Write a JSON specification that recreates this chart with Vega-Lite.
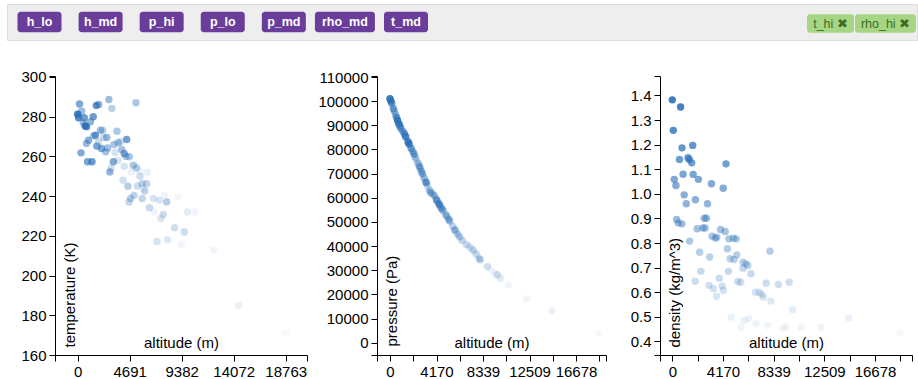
{
  "$schema": "https://vega.github.io/schema/vega-lite/v6.json",
  "padding": {"left": 6, "top": 3, "right": 0, "bottom": 0},
  "background": "white",
  "config": {
    "font": "Liberation Sans",
    "view": {"stroke": null},
    "axis": {
      "labelFont": "Liberation Sans", "labelFontSize": 15, "labelColor": "#000",
      "titleFont": "Liberation Sans", "titleFontSize": 15, "titleFontWeight": "normal", "titleColor": "#000",
      "domainColor": "#000", "tickColor": "#000", "tickSize": 6, "labelPadding": 3,
      "grid": false, "labelOverlap": false, "labelFlush": false, "labelBound": false
    }
  },
  "datasets": {
    "tags": [
      {"tag": "h_lo", "state": "available"},
      {"tag": "h_md", "state": "available"},
      {"tag": "p_hi", "state": "available"},
      {"tag": "p_lo", "state": "available"},
      {"tag": "p_md", "state": "available"},
      {"tag": "rho_md", "state": "available"},
      {"tag": "t_md", "state": "available"},
      {"tag": "t_hi", "state": "active"},
      {"tag": "rho_hi", "state": "active"}
    ],
    "obs": [
      {"h": 0, "T": 281.2, "p": 101000, "rho": 1.382},
      {"h": 80, "T": 279.5, "p": 100000, "rho": 1.258},
      {"h": 160, "T": 286.4, "p": 99000, "rho": 1.059},
      {"h": 300, "T": 261.8, "p": 97000, "rho": 1.034},
      {"h": 360, "T": 282.8, "p": 96000, "rho": 0.896},
      {"h": 500, "T": 276.9, "p": 94500, "rho": 0.882},
      {"h": 590, "T": 279.5, "p": 93300, "rho": 1.140},
      {"h": 680, "T": 275.3, "p": 92000, "rho": 1.353},
      {"h": 790, "T": 266.5, "p": 90700, "rho": 0.878},
      {"h": 890, "T": 257.3, "p": 89600, "rho": 1.080},
      {"h": 980, "T": 268.2, "p": 88700, "rho": 0.996},
      {"h": 800, "T": 275.0, "p": 90600, "rho": 1.187},
      {"h": 1150, "T": 277.5, "p": 87500, "rho": 0.960},
      {"h": 1290, "T": 257.3, "p": 86500, "rho": 1.147},
      {"h": 1400, "T": 280.0, "p": 85400, "rho": 1.140},
      {"h": 1420, "T": 270.4, "p": 85200, "rho": 0.808},
      {"h": 1600, "T": 270.7, "p": 83300, "rho": 1.126},
      {"h": 1680, "T": 285.7, "p": 82600, "rho": 1.197},
      {"h": 1720, "T": 265.2, "p": 82200, "rho": 1.079},
      {"h": 1900, "T": 286.2, "p": 80400, "rho": 0.976},
      {"h": 1880, "T": 267.4, "p": 80600, "rho": 0.645},
      {"h": 2050, "T": 273.2, "p": 79200, "rho": 0.858},
      {"h": 2150, "T": 264.0, "p": 78100, "rho": 1.059},
      {"h": 2250, "T": 273.2, "p": 76900, "rho": 0.763},
      {"h": 2350, "T": 269.5, "p": 75900, "rho": 0.685},
      {"h": 2520, "T": 262.3, "p": 74300, "rho": 0.861},
      {"h": 2630, "T": 269.5, "p": 73100, "rho": 0.901},
      {"h": 2700, "T": 264.3, "p": 72300, "rho": 0.861},
      {"h": 2810, "T": 288.7, "p": 71000, "rho": 0.901},
      {"h": 2900, "T": 252.2, "p": 70000, "rho": 0.960},
      {"h": 3016, "T": 254.2, "p": 68700, "rho": 0.628},
      {"h": 3080, "T": 284.2, "p": 68000, "rho": 0.743},
      {"h": 3220, "T": 257.3, "p": 66500, "rho": 1.041},
      {"h": 3270, "T": 266.0, "p": 66000, "rho": 0.828},
      {"h": 3374, "T": 262.0, "p": 64900, "rho": 0.614},
      {"h": 3540, "T": 272.7, "p": 63100, "rho": 0.820},
      {"h": 3648, "T": 258.0, "p": 62200, "rho": 0.584},
      {"h": 3660, "T": 266.9, "p": 62100, "rho": 0.824},
      {"h": 3860, "T": 267.4, "p": 61500, "rho": 0.657},
      {"h": 3970, "T": 263.5, "p": 60900, "rho": 0.855},
      {"h": 4190, "T": 261.5, "p": 59000, "rho": 1.023},
      {"h": 4100, "T": 248.0, "p": 59700, "rho": 0.625},
      {"h": 4350, "T": 260.1, "p": 57800, "rho": 0.847},
      {"h": 4420, "T": 268.5, "p": 57200, "rho": 1.122},
      {"h": 4197, "T": 255.0, "p": 59000, "rho": 0.607},
      {"h": 4530, "T": 245.0, "p": 56300, "rho": 0.777},
      {"h": 4650, "T": 259.8, "p": 55400, "rho": 0.817},
      {"h": 4620, "T": 237.1, "p": 55600, "rho": 0.685},
      {"h": 4760, "T": 238.8, "p": 54700, "rho": 0.736},
      {"h": 4835, "T": 252.2, "p": 54200, "rho": 0.499},
      {"h": 5020, "T": 255.6, "p": 52900, "rho": 0.820},
      {"h": 5080, "T": 240.4, "p": 52400, "rho": 0.733},
      {"h": 5255, "T": 287.0, "p": 51200, "rho": 0.817},
      {"h": 5310, "T": 254.2, "p": 50700, "rho": 0.752},
      {"h": 5385, "T": 245.1, "p": 50100, "rho": 0.644},
      {"h": 5630, "T": 252.6, "p": 48100, "rho": 0.458},
      {"h": 5820, "T": 246.3, "p": 46700, "rho": 0.722},
      {"h": 5820, "T": 238.8, "p": 46700, "rho": 0.698},
      {"h": 5623, "T": 250.0, "p": 48200, "rho": 0.641},
      {"h": 6050, "T": 242.6, "p": 45000, "rho": 0.716},
      {"h": 6220, "T": 246.3, "p": 44000, "rho": 0.709},
      {"h": 6295, "T": 251.9, "p": 43500, "rho": 0.492},
      {"h": 5898, "T": 244.0, "p": 46100, "rho": 0.485},
      {"h": 6470, "T": 234.2, "p": 42300, "rho": 0.675},
      {"h": 6840, "T": 238.8, "p": 40700, "rho": 0.600},
      {"h": 6900, "T": 232.0, "p": 40500, "rho": 0.472},
      {"h": 7145, "T": 217.2, "p": 39600, "rho": 0.600},
      {"h": 7370, "T": 238.0, "p": 38700, "rho": 0.591},
      {"h": 7505, "T": 228.7, "p": 38100, "rho": 0.580},
      {"h": 7720, "T": 230.8, "p": 36800, "rho": 0.637},
      {"h": 7850, "T": 240.4, "p": 35800, "rho": 0.465},
      {"h": 8030, "T": 237.1, "p": 34700, "rho": 0.767},
      {"h": 8110, "T": 218.0, "p": 34200, "rho": 0.564},
      {"h": 8730, "T": 224.1, "p": 31500, "rho": 0.632},
      {"h": 9060, "T": 239.6, "p": 30200, "rho": 0.454},
      {"h": 9351, "T": 215.5, "p": 29000, "rho": 0.460},
      {"h": 9610, "T": 221.9, "p": 28100, "rho": 0.641},
      {"h": 9900, "T": 232.0, "p": 26700, "rho": 0.530},
      {"h": 10600, "T": 232.0, "p": 23900, "rho": 0.458},
      {"h": 12250, "T": 212.7, "p": 18200, "rho": 0.458},
      {"h": 14520, "T": 184.9, "p": 13100, "rho": 0.495},
      {"h": 18750, "T": 171.0, "p": 3900, "rho": 0.435}
    ]
  },
  "spacing": 28,
  "vconcat": [
    {
      "width": 910,
      "height": 36,
      "view": {"fill": "#eeeeee", "stroke": "#dddddd", "strokeWidth": 1},
      "data": {"name": "tags"},
      "layer": [
        {
          "transform": [{"filter": "datum.state == 'available'"}],
          "layer": [
            {
              "transform": [{"filter": "length(datum.tag) <= 4"}],
              "mark": {"type": "tick", "orient": "vertical", "thickness": 44, "size": 20.5, "color": "#6a3d9a", "opacity": 1, "cornerRadius": 3},
              "encoding": {"x": {"field": "tag", "type": "nominal", "scale": {"type": "point", "domain": ["h_lo", "h_md", "p_hi", "p_lo", "p_md", "rho_md", "t_md"], "range": [32.5, 399], "padding": 0}, "axis": null}}
            },
            {
              "transform": [{"filter": "length(datum.tag) > 4"}],
              "mark": {"type": "tick", "orient": "vertical", "thickness": 60, "size": 20.5, "color": "#6a3d9a", "opacity": 1, "cornerRadius": 3},
              "encoding": {"x": {"field": "tag", "type": "nominal", "scale": {"type": "point", "domain": ["h_lo", "h_md", "p_hi", "p_lo", "p_md", "rho_md", "t_md"], "range": [32.5, 399], "padding": 0}, "axis": null}}
            },
            {
              "mark": {"type": "text", "color": "white", "fontWeight": "bold", "fontSize": 12.5, "font": "Liberation Sans", "baseline": "middle", "align": "center"},
              "encoding": {
                "x": {"field": "tag", "type": "nominal", "scale": {"type": "point", "domain": ["h_lo", "h_md", "p_hi", "p_lo", "p_md", "rho_md", "t_md"], "range": [32.5, 399], "padding": 0}, "axis": null},
                "text": {"field": "tag"}
              }
            }
          ]
        },
        {
          "transform": [{"filter": "datum.state == 'active'"}],
          "layer": [
            {
              "transform": [{"filter": "datum.tag == 't_hi'"}],
              "mark": {"type": "tick", "orient": "vertical", "thickness": 47, "size": 18.5, "yOffset": 1.5, "color": "#a6d684", "opacity": 1, "cornerRadius": 3},
              "encoding": {"x": {"field": "tag", "type": "nominal", "scale": {"type": "point", "domain": ["t_hi", "rho_hi"], "range": [823.5, 878.5], "padding": 0}, "axis": null}}
            },
            {
              "transform": [{"filter": "datum.tag == 'rho_hi'"}],
              "mark": {"type": "tick", "orient": "vertical", "thickness": 61, "size": 18.5, "yOffset": 1.5, "color": "#a6d684", "opacity": 1, "cornerRadius": 3},
              "encoding": {"x": {"field": "tag", "type": "nominal", "scale": {"type": "point", "domain": ["t_hi", "rho_hi"], "range": [823.5, 878.5], "padding": 0}, "axis": null}}
            },
            {
              "mark": {"type": "text", "color": "#3e6b24", "fontSize": 12.5, "font": "Liberation Sans", "baseline": "middle", "align": "center", "yOffset": 1.5, "text": {"expr": "datum.tag + ' \u2716'"}},
              "encoding": {
                "x": {"field": "tag", "type": "nominal", "scale": {"type": "point", "domain": ["t_hi", "rho_hi"], "range": [823.5, 878.5], "padding": 0}, "axis": null}
              }
            }
          ]
        }
      ],
      "resolve": {"scale": {"x": "independent"}}
    },
    {
      "spacing": 5,
      "hconcat": [
        {
          "width": 1,
          "height": 279,
          "data": {"values": []},
          "mark": {"type": "text"},
          "encoding": {}
        },
        {
          "width": 252,
          "height": 279,
          "data": {"name": "obs"},
          "mark": {"type": "circle", "size": 55, "color": "#2a6fb8"},
          "encoding": {
            "x": {"field": "h", "type": "quantitative",
              "scale": {"domain": [-2048, 20683], "nice": false, "zero": false},
              "axis": {"title": "altitude (m)", "values": [-2048, 0, 4691, 9382, 14072, 18763, 20683],
                "labelExpr": "datum.value < 0 || datum.value > 19000 ? '' : format(datum.value, 'd')",
                "titleY": -8, "titleBaseline": "alphabetic"}},
            "y": {"field": "T", "type": "quantitative",
              "scale": {"domain": [160, 300.5], "nice": false, "zero": false},
              "axis": {"title": "temperature (K)", "values": [160, 180, 200, 220, 240, 260, 280, 300, 300.5],
                "labelExpr": "datum.value > 300.1 ? '' : format(datum.value, 'd')",
                "minExtent": 42, "titleX": 19, "titleY": 271, "titleAngle": -90, "titleAlign": "left", "titleBaseline": "alphabetic"}},
            "opacity": {"field": "rho", "type": "quantitative", "scale": {"domain": [0.43, 1.38], "range": [0.04, 0.9]}, "legend": null}
          }
        },
        {
          "width": 229,
          "height": 279,
          "data": {"name": "obs"},
          "mark": {"type": "circle", "size": 55, "color": "#2a6fb8"},
          "encoding": {
            "x": {"field": "h", "type": "quantitative",
              "scale": {"domain": [-1165, 19364], "nice": false, "zero": false},
              "axis": {"title": "altitude (m)", "values": [-1165, 0, 2085, 4170, 6254, 8339, 10424, 12509, 14594, 16678, 18763, 19364],
                "labelExpr": "(datum.value == 0 || datum.value == 4170 || datum.value == 8339 || datum.value == 12509 || datum.value == 16678) ? format(datum.value, 'd') : ''",
                "titleY": -8, "titleBaseline": "alphabetic"}},
            "y": {"field": "p", "type": "quantitative",
              "scale": {"domain": [-5092, 110414], "nice": false, "zero": false},
              "axis": {"title": "pressure (Pa)", "values": [-5092, 0, 10000, 20000, 30000, 40000, 50000, 60000, 70000, 80000, 90000, 100000, 110000, 110414],
                "labelExpr": "datum.value < 0 || datum.value > 110100 ? '' : format(datum.value, 'd')",
                "minExtent": 63.5, "titleX": 19, "titleY": 270, "titleAngle": -90, "titleAlign": "left", "titleBaseline": "alphabetic"}},
            "opacity": {"field": "rho", "type": "quantitative", "scale": {"domain": [0.43, 1.38], "range": [0.04, 0.9]}, "legend": null}
          }
        },
        {
          "width": 252,
          "height": 279,
          "data": {"name": "obs"},
          "mark": {"type": "circle", "size": 55, "color": "#2a6fb8"},
          "encoding": {
            "x": {"field": "h", "type": "quantitative",
              "scale": {"domain": [-1012, 19723], "nice": false, "zero": false},
              "axis": {"title": "altitude (m)", "values": [-1012, 0, 2085, 4170, 6254, 8339, 10424, 12509, 14594, 16678, 18763, 19723],
                "labelExpr": "(datum.value == 0 || datum.value == 4170 || datum.value == 8339 || datum.value == 12509 || datum.value == 16678) ? format(datum.value, 'd') : ''",
                "titleY": -8, "titleBaseline": "alphabetic"}},
            "y": {"field": "rho", "type": "quantitative",
              "scale": {"domain": [0.345, 1.479], "nice": false, "zero": false},
              "axis": {"title": "density (kg/m^3)", "values": [0.345, 0.4, 0.5, 0.6, 0.7, 0.8, 0.9, 1.0, 1.1, 1.2, 1.3, 1.4, 1.479],
                "labelExpr": "datum.value < 0.39 || datum.value > 1.41 ? '' : format(datum.value, '.1f')",
                "minExtent": 48, "titleX": 19, "titleY": 271, "titleAngle": -90, "titleAlign": "left", "titleBaseline": "alphabetic"}},
            "opacity": {"field": "rho", "type": "quantitative", "scale": {"domain": [0.43, 1.38], "range": [0.04, 0.9]}, "legend": null}
          }
        }
      ]
    }
  ]
}
